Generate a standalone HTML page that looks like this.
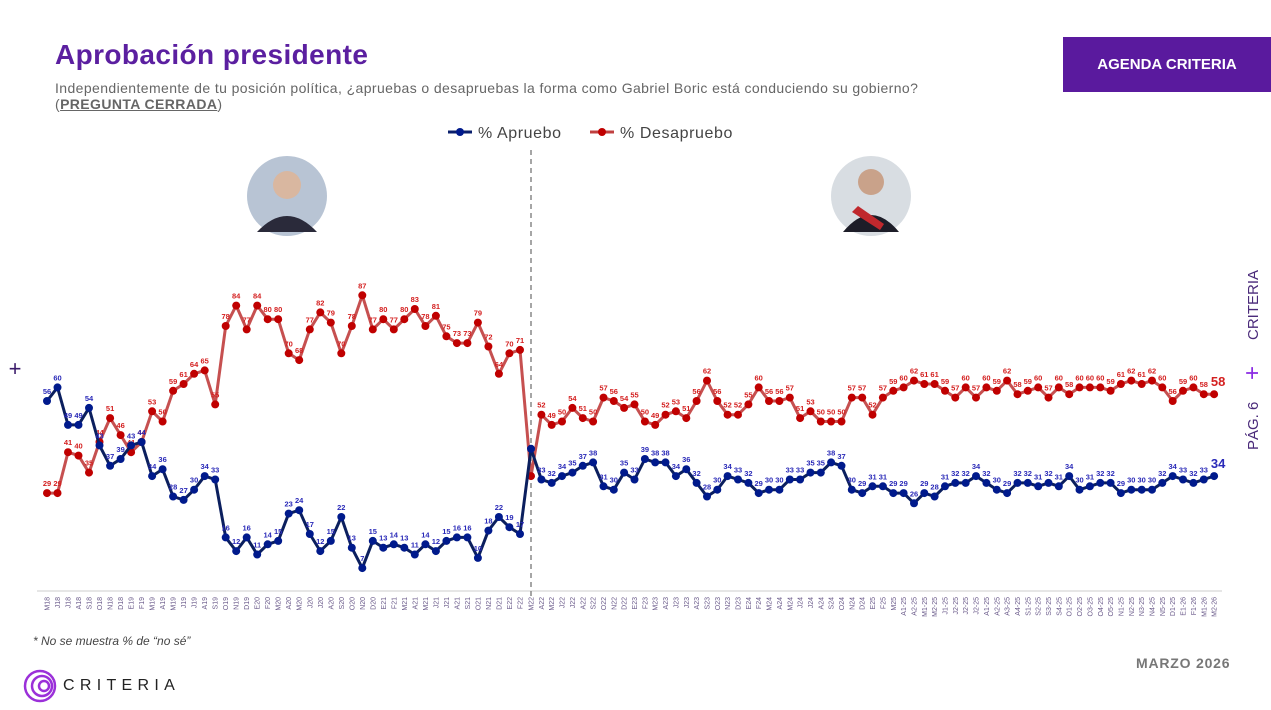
<!DOCTYPE html>
<html><head><meta charset="utf-8"><style>
body{margin:0;width:1271px;height:710px;background:#fff;overflow:hidden;font-family:"Liberation Sans",sans-serif;position:relative}
.abs{position:absolute}
</style></head><body>
<div class="abs" style="left:55px;top:39px;font-size:28px;letter-spacing:0.4px;font-weight:bold;color:#5b1fa0">Aprobación presidente</div>
<div class="abs" style="left:55px;top:80px;font-size:14px;letter-spacing:0.4px;color:#666;line-height:16px">Independientemente de tu posición política, ¿apruebas o desapruebas la forma como Gabriel Boric está conduciendo su gobierno?<br>(<b style="text-decoration:underline">PREGUNTA CERRADA</b>)</div>
<div class="abs" style="left:1063px;top:37px;width:208px;height:55px;background:#5a1a9e;color:#fff;font-weight:bold;font-size:15px;line-height:55px;text-align:center">AGENDA CRITERIA</div>
<div class="abs" style="left:33px;top:634px;font-size:12px;font-style:italic;color:#444">* No se muestra % de “no sé”</div>
<div class="abs" style="left:1136px;top:655px;font-size:14px;letter-spacing:0.8px;font-weight:bold;color:#777">MARZO 2026</div>
<div class="abs" style="left:63px;top:677px;font-size:16px;letter-spacing:5.3px;color:#222">CRITERIA</div>
<svg class="abs" style="left:0;top:0" width="1271" height="710" id="s">
<g fill="none" stroke="#9b30d9" stroke-width="2.5"><circle cx="40" cy="686" r="15"/><circle cx="42" cy="686" r="10"/><circle cx="44" cy="686" r="5"/></g>
<text x="15" y="376" font-size="22" fill="#3a1a6a" text-anchor="middle">+</text>
<g transform="translate(1258,450) rotate(-90)" font-family="Liberation Sans" font-size="15" fill="#4a2a7a"><text x="0" y="0">PÁG. 6</text><text x="70" y="2" fill="#8a2be2" font-size="24">+</text><text x="110" y="0">CRITERIA</text></g>
<g font-size="16" fill="#444" letter-spacing="0.6"><line x1="448" y1="132" x2="472" y2="132" stroke="#0a1f6c" stroke-width="3"/><circle cx="460" cy="132" r="4" fill="#001a8c"/><text x="478" y="138">% Apruebo</text>
<line x1="590" y1="132" x2="614" y2="132" stroke="#c04040" stroke-width="3"/><circle cx="602" cy="132" r="4" fill="#c00000"/><text x="620" y="138">% Desapruebo</text></g>
<circle cx="287" cy="196" r="40" fill="#b8c4d4"/><circle cx="287" cy="185" r="14" fill="#d9b7a0"/><path d="M257 232 Q287 200 317 232 Z" fill="#2a2a3a"/>
<circle cx="871" cy="196" r="40" fill="#d8dde2"/><circle cx="871" cy="182" r="13" fill="#c9a28a"/><path d="M843 232 Q871 198 899 232 Z" fill="#1d1d28"/><path d="M852 212 L880 230 L884 224 L858 206Z" fill="#c0282d"/>
<line x1="37" y1="591" x2="1222" y2="591" stroke="#ddd" stroke-width="1.5"/>
<line x1="531" y1="150" x2="531" y2="600" stroke="#888" stroke-width="1.5" stroke-dasharray="5,4"/>
</svg>
<script>
var LA=[56,60,49,49,54,43,37,39,43,44,34,36,28,27,30,34,33,16,12,16,11,14,15,23,24,17,12,15,22,13,7,15,13,14,13,11,14,12,15,16,16,10,18,22,19,17];
var LR=[29,29,41,40,35,44,51,46,41,44,53,50,59,61,64,65,55,78,84,77,84,80,80,70,68,77,82,79,70,78,87,77,80,77,80,83,78,81,75,73,73,79,72,64,70,71];
var RA=[42,33,32,34,35,37,38,31,30,35,33,39,38,38,34,36,32,28,30,34,33,32,29,30,30,33,33,35,35,38,37,30,29,31,31,29,29,26,29,28,31,32,32,34,32,30,29,32,32,31,32,31,34,30,31,32,32,29,30,30,30,32,34,33,32,33,34];
var RR=[34,52,49,50,54,51,50,57,56,54,55,50,49,52,53,51,56,62,56,52,52,55,60,56,56,57,51,53,50,50,50,57,57,52,57,59,60,62,61,61,59,57,60,57,60,59,62,58,59,60,57,60,58,60,60,60,59,61,62,61,62,60,56,59,60,58,58];
var LL="M18,J18,J18,A18,S18,O18,N18,D18,E19,F19,M19,A19,M19,J19,J19,A19,S19,O19,N19,D19,E20,F20,M20,A20,M20,J20,J20,A20,S20,O20,N20,D20,E21,F21,M21,A21,M21,J21,J21,A21,S21,O21,N21,D21,E22,F22".split(",");
var RL="M22,A22,M22,J22,J22,A22,S22,O22,N22,D22,E23,F23,M23,A23,J23,J23,A23,S23,O23,N23,D23,E24,F24,M24,A24,M24,J24,J24,A24,S24,O24,N24,D24,E25,F25,M25,A1-25,A2-25,M1-25,M2-25,J1-25,J2-25,J2-25,J2-25,A1-25,A2-25,A3-25,A4-25,S1-25,S2-25,S3-25,S4-25,O1-25,O2-25,O3-25,O4-25,O5-25,N1-25,N2-25,N3-25,N4-25,N5-25,D1-25,E1-26,F1-26,M1-26,M2-26".split(",");
var xs=[],A=[],R=[],L=[];
for(var i=0;i<46;i++){xs.push(47+i*10.51);A.push(LA[i]);R.push(LR[i]);L.push(LL[i]);}
for(var j=0;j<67;j++){xs.push(531+j*10.35);A.push(RA[j]);R.push(RR[j]);L.push(RL[j]);}
function y(v){return 592-3.41*v;}
var h="";
function series(d,lc,dc,tc){
 var p="";for(var i=0;i<d.length;i++)p+=(i?"L":"M")+xs[i].toFixed(1)+" "+y(d[i]).toFixed(1);
 h+='<path d="'+p+'" fill="none" stroke="'+lc+'" stroke-width="3" stroke-linejoin="round"/>';
 for(var i=0;i<d.length;i++){h+='<circle cx="'+xs[i].toFixed(1)+'" cy="'+y(d[i]).toFixed(1)+'" r="4" fill="'+dc+'"/>';
  var last=i==d.length-1;
  if(i!=46) h+='<text x="'+(xs[i]+(last?4:0)).toFixed(1)+'" y="'+(y(d[i])-(last?8:7)).toFixed(1)+'" font-size="'+(last?13:7.5)+'" font-weight="bold" text-anchor="middle" fill="'+tc+'">'+d[i]+'</text>';}
}
series(R,"#c65050","#c00000","#d42020");
series(A,"#0b1f5e","#001a8c","#2a2ab8");
for(var i=0;i<xs.length;i++)h+='<text transform="translate('+(xs[i]+2.5).toFixed(1)+',597) rotate(-90)" font-size="7" text-anchor="end" fill="#6a5a8a">'+L[i]+'</text>';
document.getElementById("s").insertAdjacentHTML("beforeend",h);
</script>
</body></html>
